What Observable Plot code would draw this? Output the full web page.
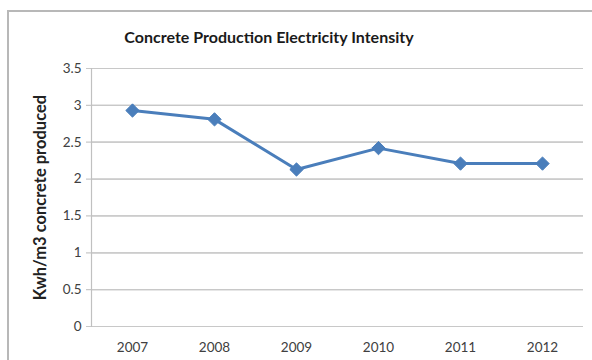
<!DOCTYPE html>
<html>
<head>
<meta charset="utf-8">
<script src="https://cdn.jsdelivr.net/npm/d3@7"></script>
<script src="https://cdn.jsdelivr.net/npm/@observablehq/plot@0.6"></script>
<style>
  html, body { margin: 0; padding: 0; background: #fff; }
  #wrap { position: relative; width: 592px; height: 360px; overflow: hidden; }
  #frame { position: absolute; left: 7px; top: 10px; width: 600px; height: 400px; border: 2px solid #b8b8b8; box-sizing: border-box; }
  #title { position: absolute; left: 269px; top: 27px; transform: translateX(-50%); white-space: nowrap;
           font-family: Lato, "Open Sans", sans-serif; font-weight: bold; font-size: 16px; color: #1a1a1a; }
  #chart { position: absolute; left: 0; top: 0; }
</style>
</head>
<body>
<div id="wrap">
  <div id="frame"></div>
  <div id="chart"></div>
  <div id="title">Concrete Production Electricity Intensity</div>
</div>
<script>
const years = ["2007", "2008", "2009", "2010", "2011", "2012"];
const values = [2.93, 2.81, 2.13, 2.42, 2.21, 2.21];
const yTicks = [0, 0.5, 1, 1.5, 2, 2.5, 3, 3.5];
const yLabel = "Kwh/m3 concrete produced";

const data = years.map((y, i) => ({year: y, value: values[i]}));
const blue = "#4a7ebb";

const chart = Plot.plot({
  width: 592,
  height: 360,
  marginTop: 68,
  marginBottom: 34,
  marginLeft: 91,
  marginRight: 9,
  style: {fontFamily: "Lato, 'Open Sans', sans-serif", fontSize: "13.5px", color: "#404040", background: "transparent"},
  x: {type: "point", domain: years, padding: 0.5, label: null},
  y: {domain: [0, 3.5], ticks: yTicks, label: null},
  marks: [
    Plot.gridY(yTicks, {stroke: "#c8c8c8", strokeOpacity: 1, strokeWidth: 1.2}),
    Plot.ruleY(yTicks, {stroke: "#c8c8c8", strokeWidth: 1.2, insetLeft: -5}),
    Plot.frame({anchor: "left", stroke: "#c0c0c0", strokeWidth: 1.2}),
    Plot.axisY(yTicks, {tickSize: 0, tickPadding: 10, tickFormat: d => String(d), fontSize: 13.5}),
    Plot.axisY({ticks: [], label: yLabel, labelAnchor: "center", labelArrow: "none", labelOffset: 57,
                fontSize: 16.5, fontWeight: "bold", tickSize: 0, fill: "#222"}),
    Plot.axisX({tickSize: 0, tickPadding: 16, fontSize: 13.5}),
    Plot.line(data, {x: "year", y: "value", stroke: blue, strokeWidth: 3}),
    Plot.dot(data, {x: "year", y: "value", symbol: "diamond2", r: 6, fill: blue, stroke: blue, strokeWidth: 1})
  ]
});
document.getElementById("chart").appendChild(chart);
</script>
</body>
</html>
